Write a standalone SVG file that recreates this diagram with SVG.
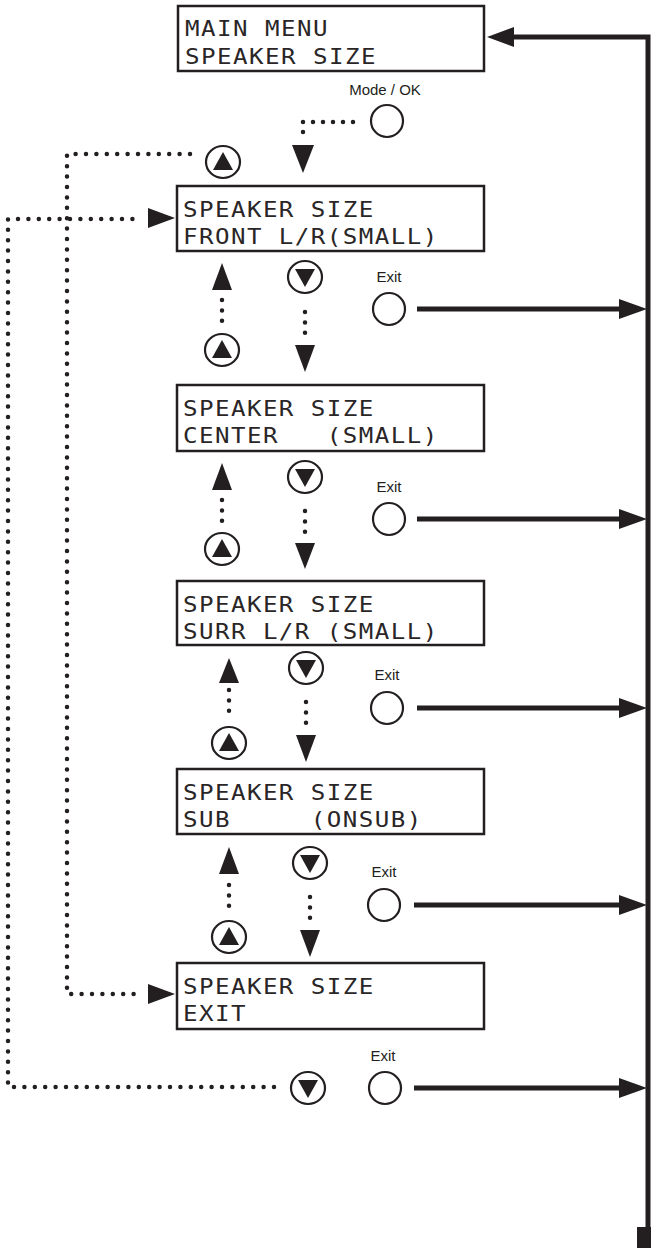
<svg xmlns="http://www.w3.org/2000/svg" width="651" height="1248" viewBox="0 0 651 1248">
<style>
.box{fill:#fff;stroke:#231f20;stroke-width:2.5}
.lcd{font-family:"DejaVu Sans Mono","Liberation Mono",monospace;font-size:21px;letter-spacing:1.27px;fill:#2a2627}
.lbl{font-family:"Liberation Sans",Arial,sans-serif;font-size:15px;fill:#231f20;text-anchor:middle}
.btn{fill:#fff;stroke:#231f20;stroke-width:2.2}
.tri{fill:#231f20}
.dot{fill:none;stroke:#231f20;stroke-width:4.5;stroke-linecap:round;stroke-dasharray:0 10.4}
.solid{fill:none;stroke:#231f20;stroke-width:5}
.head{fill:#231f20}
</style>
<rect width="651" height="1248" fill="#fff"/>

<g id="connectors">
  <!-- right return bus -->
  <path class="solid" d="M510 37 H648 V1230"/>
  <polygon class="head" points="487,37 514,27 514,47"/>
  <rect x="637" y="1227" width="14" height="21" fill="#231f20"/>
  <!-- Exit arrows -->
  <line class="solid" x1="417" y1="309" x2="622" y2="309"/>
  <polygon class="head" points="647,309 619,299 619,319"/>
  <line class="solid" x1="417" y1="519" x2="622" y2="519"/>
  <polygon class="head" points="647,519 619,509 619,529"/>
  <line class="solid" x1="417" y1="708" x2="622" y2="708"/>
  <polygon class="head" points="647,708 619,698 619,718"/>
  <line class="solid" x1="414" y1="905" x2="622" y2="905"/>
  <polygon class="head" points="647,905 619,895 619,915"/>
  <line class="solid" x1="414" y1="1088" x2="622" y2="1088"/>
  <polygon class="head" points="647,1088 619,1078 619,1098"/>
  <!-- Mode/OK to FRONT -->
  <path class="dot" style="stroke-dasharray:0 10" d="M353 122 H303 V133"/>
  <polygon class="head" points="292,145 314,145 303,173"/>
  <!-- top up button loop to EXIT -->
  <path class="dot" d="M190 154 H67 V994 H140"/>
  <polygon class="head" points="175,994 148,984 148,1004"/>
  <!-- bottom down button loop to FRONT -->
  <path class="dot" d="M274 1087 H8 V219 H140"/>
  <polygon class="head" points="175,218 148,208 148,228"/>
  <!-- gap 1 -->
  <polygon class="head" points="222,263 212,290 232,290"/>
  <line class="dot" x1="222" y1="300" x2="222" y2="322"/>
  <line class="dot" x1="305" y1="312" x2="305" y2="334"/>
  <polygon class="head" points="295,345 315,345 305,372"/>
  <!-- gap 2 -->
  <polygon class="head" points="222,463 212,490 232,490"/>
  <line class="dot" x1="222" y1="500" x2="222" y2="522"/>
  <line class="dot" x1="305" y1="511" x2="305" y2="533"/>
  <polygon class="head" points="295,543 315,543 305,569"/>
  <!-- gap 3 -->
  <polygon class="head" points="229,658 219,683 239,683"/>
  <line class="dot" x1="229" y1="690" x2="229" y2="712"/>
  <line class="dot" x1="306" y1="702" x2="306" y2="724"/>
  <polygon class="head" points="296,735 316,735 306,762"/>
  <!-- gap 4 -->
  <polygon class="head" points="229,847 219,874 239,874"/>
  <line class="dot" x1="229" y1="885" x2="229" y2="907"/>
  <line class="dot" x1="310" y1="897" x2="310" y2="919"/>
  <polygon class="head" points="300,930 320,930 310,957"/>
</g>

<g id="main-menu">
  <rect class="box" x="178" y="6" width="306" height="65"/>
  <text class="lcd" transform="scale(1.15,1)" x="160.9" y="36">MAIN MENU</text>
  <text class="lcd" transform="scale(1.15,1)" x="160.9" y="64">SPEAKER SIZE</text>
</g>
<g id="front">
  <rect class="box" x="177" y="186" width="307" height="65"/>
  <text class="lcd" transform="scale(1.15,1)" x="159.1" y="217">SPEAKER SIZE</text>
  <text class="lcd" transform="scale(1.15,1)" x="159.1" y="244">FRONT L/R(SMALL)</text>
</g>
<g id="center">
  <rect class="box" x="177" y="385" width="307" height="66"/>
  <text class="lcd" transform="scale(1.15,1)" x="159.1" y="416">SPEAKER SIZE</text>
  <text class="lcd" transform="scale(1.15,1)" x="159.1" y="443" xml:space="preserve">CENTER   (SMALL)</text>
</g>
<g id="surr">
  <rect class="box" x="177" y="581" width="307" height="64"/>
  <text class="lcd" transform="scale(1.15,1)" x="159.1" y="612">SPEAKER SIZE</text>
  <text class="lcd" transform="scale(1.15,1)" x="159.1" y="639">SURR L/R (SMALL)</text>
</g>
<g id="sub">
  <rect class="box" x="177" y="769" width="307" height="65"/>
  <text class="lcd" transform="scale(1.15,1)" x="159.1" y="800">SPEAKER SIZE</text>
  <text class="lcd" transform="scale(1.15,1)" x="159.1" y="827" xml:space="preserve">SUB     (ONSUB)</text>
</g>
<g id="exit-item">
  <rect class="box" x="177" y="963" width="307" height="66"/>
  <text class="lcd" transform="scale(1.15,1)" x="159.1" y="994">SPEAKER SIZE</text>
  <text class="lcd" transform="scale(1.15,1)" x="159.1" y="1021">EXIT</text>
</g>

<g id="mode-ok">
  <text class="lbl" x="385" y="95">Mode / OK</text>
  <circle class="btn" cx="387" cy="121" r="16"/>
</g>
<g id="up-top">
  <ellipse class="btn" cx="223" cy="162" rx="17" ry="16"/>
  <polygon class="tri" points="223,152 213,170 233,170"/>
</g>

<g id="gap1-buttons">
  <ellipse class="btn" cx="305" cy="277" rx="17" ry="16"/>
  <polygon class="tri" points="305,287 295,269 315,269"/>
  <ellipse class="btn" cx="222" cy="350" rx="17" ry="16"/>
  <polygon class="tri" points="222,340 212,358 232,358"/>
  <text class="lbl" x="389" y="282">Exit</text>
  <circle class="btn" cx="389" cy="309" r="16"/>
</g>
<g id="gap2-buttons">
  <ellipse class="btn" cx="305" cy="477" rx="17" ry="16"/>
  <polygon class="tri" points="305,487 295,469 315,469"/>
  <ellipse class="btn" cx="222" cy="549" rx="17" ry="16"/>
  <polygon class="tri" points="222,539 212,557 232,557"/>
  <text class="lbl" x="389" y="492">Exit</text>
  <circle class="btn" cx="389" cy="519" r="16"/>
</g>
<g id="gap3-buttons">
  <ellipse class="btn" cx="306" cy="668" rx="17" ry="16"/>
  <polygon class="tri" points="306,678 296,660 316,660"/>
  <ellipse class="btn" cx="229" cy="743" rx="17" ry="16"/>
  <polygon class="tri" points="229,733 219,751 239,751"/>
  <text class="lbl" x="387" y="680">Exit</text>
  <circle class="btn" cx="387" cy="708" r="16"/>
</g>
<g id="gap4-buttons">
  <ellipse class="btn" cx="310" cy="863" rx="17" ry="16"/>
  <polygon class="tri" points="310,873 300,855 320,855"/>
  <ellipse class="btn" cx="229" cy="937" rx="17" ry="16"/>
  <polygon class="tri" points="229,927 219,945 239,945"/>
  <text class="lbl" x="384" y="877">Exit</text>
  <circle class="btn" cx="384" cy="905" r="16"/>
</g>
<g id="bottom-buttons">
  <ellipse class="btn" cx="308" cy="1088" rx="17" ry="16"/>
  <polygon class="tri" points="308,1098 298,1080 318,1080"/>
  <text class="lbl" x="383" y="1061">Exit</text>
  <circle class="btn" cx="385" cy="1088" r="16"/>
</g>
</svg>
